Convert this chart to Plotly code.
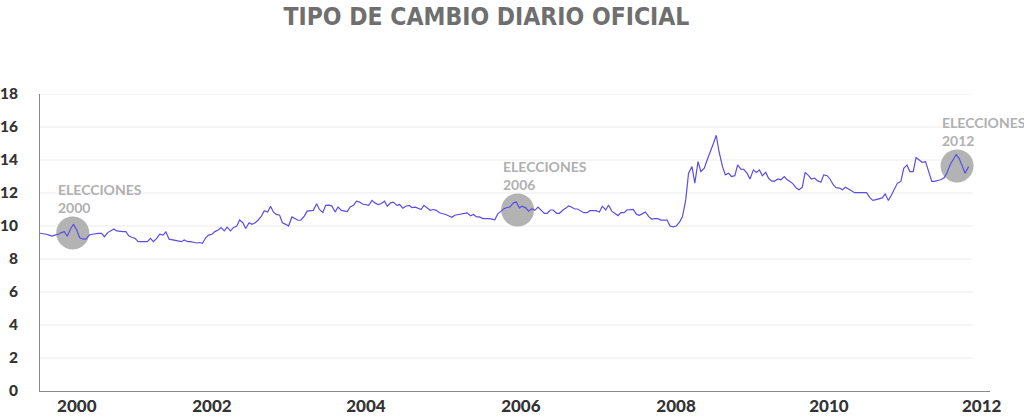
import pandas as pd
import plotly.graph_objects as go

title_text = "TIPO DE CAMBIO DIARIO OFICIAL"

# Semi-monthly readings of the official daily exchange rate (pesos per dollar)
rate_2000 = [9.56, 9.55, 9.5, 9.45, 9.39, 9.45, 9.5, 9.6, 9.66, 9.38, 9.85, 10.1,
             9.75, 9.3, 9.2, 9.2, 9.45, 9.5, 9.55, 9.55, 9.55, 9.35, 9.6, 9.7]
rate_2001 = [9.82, 9.7, 9.66, 9.66, 9.66, 9.4, 9.3, 9.25, 9.05, 9.05, 9.05, 9.05,
             9.25, 9.05, 9.25, 9.5, 9.45, 9.65, 9.2, 9.17, 9.15, 9.1, 9.05, 9.15]
rate_2002 = [9.05, 9.05, 9.0, 8.97, 9.0, 8.95, 9.3, 9.45, 9.5, 9.66, 9.76, 9.9,
             9.7, 9.93, 9.7, 9.9, 10.0, 10.36, 10.2, 9.85, 10.2, 10.1, 10.2, 10.35]
rate_2003 = [10.6, 10.93, 10.85, 11.2, 10.85, 10.7, 10.65, 10.2, 10.1, 10.0, 10.55, 10.46,
             10.35, 10.35, 10.6, 10.9, 10.93, 10.95, 11.35, 11.0, 10.82, 11.25, 11.27, 11.22]
rate_2004 = [10.85, 11.15, 10.95, 10.93, 10.87, 11.15, 11.25, 11.5, 11.45, 11.33, 11.3, 11.25,
             11.55, 11.4, 11.3, 11.35, 11.5, 11.2, 11.4, 11.45, 11.25, 11.3, 11.08, 11.2]
rate_2005 = [11.25, 11.12, 11.14, 11.07, 11.0, 11.25, 11.1, 10.95, 11.0, 10.95, 10.8, 10.77,
             10.7, 10.62, 10.53, 10.65, 10.7, 10.75, 10.77, 10.8, 10.62, 10.7, 10.55, 10.55]
rate_2006 = [10.45, 10.46, 10.45, 10.42, 10.38, 10.72, 10.9, 11.05, 11.12, 11.15, 11.4, 11.45,
             11.1, 11.2, 11.1, 10.9, 11.05, 10.95, 11.15, 10.95, 10.77, 10.77, 10.97, 10.97]
rate_2007 = [10.77, 10.77, 10.97, 11.07, 11.21, 11.15, 11.03, 11.03, 10.93, 10.81, 10.81, 10.93,
             10.93, 10.93, 10.85, 11.2, 10.97, 11.27, 10.9, 10.77, 10.63, 10.81, 10.81, 10.97]
rate_2008 = [11.0, 11.0, 10.7, 10.65, 10.75, 10.85, 10.57, 10.42, 10.45, 10.45, 10.36, 10.36,
             10.36, 10.0, 9.95, 10.0, 10.25, 10.57, 11.58, 13.2, 13.6, 12.6, 13.9, 13.3]
rate_2009 = [13.5, 14.0, 14.5, 15.0, 15.5, 14.5, 13.6, 13.1, 13.2, 13.0, 13.05, 13.7,
             13.45, 13.43, 13.19, 12.85, 13.4, 13.25, 13.4, 13.05, 13.25, 12.89, 12.72, 12.72]
rate_2010 = [12.85, 12.8, 13.0, 12.8, 12.7, 12.57, 12.3, 12.2, 12.35, 13.25, 13.05, 12.85,
             12.9, 12.75, 12.65, 13.1, 13.05, 12.85, 12.5, 12.33, 12.3, 12.2, 12.35, 12.25]
rate_2011 = [12.1, 12.02, 12.02, 12.02, 12.02, 12.02, 11.7, 11.55, 11.6, 11.65, 11.7, 11.95,
             11.55, 11.85, 12.3, 12.6, 12.7, 13.5, 13.7, 13.3, 13.3, 14.15, 14.0, 13.86]
rate_2012 = [13.9, 13.4, 12.7, 12.7, 12.75, 12.8, 12.9, 13.19, 13.7, 14.0, 14.33, 14.1,
             13.6, 13.2, 13.6]

rates = (rate_2000 + rate_2001 + rate_2002 + rate_2003 + rate_2004 + rate_2005 + rate_2006
         + rate_2007 + rate_2008 + rate_2009 + rate_2010 + rate_2011 + rate_2012)
dates = pd.date_range("2000-01-01", periods=len(rates), freq="SMS")

election_labels = ["ELECCIONES<br>2000", "ELECCIONES<br>2006", "ELECCIONES<br>2012"]
election_dates = ["2000-06-11", "2006-06-22", "2012-06-05"]
election_rates = [9.58, 10.97, 13.64]

x_tick_labels = ["2000", "2002", "2004", "2006", "2008", "2010", "2012"]
x_tick_dates = ["2000-07-01", "2002-05-01", "2004-06-01", "2006-07-08",
                "2008-08-14", "2010-09-10", "2012-10-05"]
y_ticks = [0, 2, 4, 6, 8, 10, 12, 14, 16, 18]

LINE = "#5b4de6"
GREY = "#b3b3b3"

fig = go.Figure()
fig.add_trace(go.Scatter(
    x=election_dates, y=election_rates, mode="markers",
    marker=dict(size=33, color=GREY, line=dict(width=0)),
    hoverinfo="skip", showlegend=False))
fig.add_trace(go.Scatter(
    x=dates, y=rates, mode="lines",
    line=dict(color=LINE, width=1.2), showlegend=False))

for v in y_ticks[1:]:
    fig.add_shape(type="line", xref="paper", x0=0, x1=0.982, yref="y", y0=v, y1=v,
                  line=dict(color="#ececec", width=1), layer="below")

for lab, d, r in zip(election_labels, election_dates, election_rates):
    fig.add_annotation(x=d, y=r, xref="x", yref="y", text=lab, showarrow=False,
                       xanchor="left", yanchor="bottom", align="left",
                       xshift=-17, yshift=15,
                       font=dict(family="Lato", size=14, color="#b0b0b0", weight="bold"))

fig.update_layout(
    width=1024, height=417,
    margin=dict(l=40, r=34, t=94, b=26),
    paper_bgcolor="white", plot_bgcolor="white",
    title=dict(text=title_text, x=0.475, xanchor="center", y=1 - 16 / 417, yanchor="middle",
               xref="container", yref="container",
               font=dict(family="DejaVu Sans Condensed, Liberation Sans Narrow, Roboto Condensed, sans-serif",
                         size=24.5, color="#6f6f6f", weight="bold")),
    xaxis=dict(type="date", range=["2000-01-01", "2012-11-15"], tickvals=x_tick_dates,
               ticktext=x_tick_labels, showgrid=False, zeroline=False, showline=True,
               linecolor="#8a8a8a", linewidth=1, ticks="",
               tickfont=dict(family="Lato", size=17, color="#333333", weight=900),
               ticklabelstandoff=0, automargin=False),
    yaxis=dict(range=[0, 18], tickvals=y_ticks, showgrid=False, zeroline=False,
               showline=True, linecolor="#8a8a8a", linewidth=1, ticks="",
               tickfont=dict(family="Lato", size=15.5, color="#333333", weight=900),
               ticklabelstandoff=18, automargin=False),
    hovermode=False,
)

fig.write_html("out.html", config={"displayModeBar": False},
               post_script="document.body.style.margin='0';")
